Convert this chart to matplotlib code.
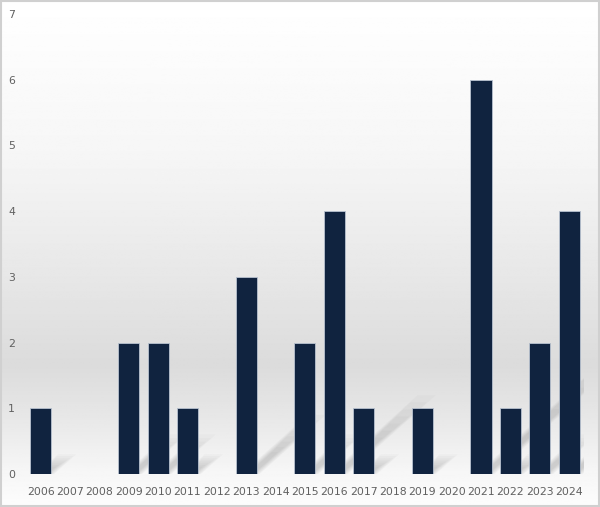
import matplotlib.pyplot as plt
import numpy as np
from matplotlib.patches import Polygon, Rectangle

years = [str(y) for y in range(2006, 2025)]
counts = [1, 0, 0, 2, 2, 1, 0, 3, 0, 2, 4, 1, 0, 1, 0, 6, 1, 2, 4]

bar_color = "#10233f"
label_color = "#606060"

fig = plt.figure(figsize=(6, 5.07), dpi=100)

# background gradient over the whole figure (0 = top, 1 = bottom)
bg = fig.add_axes([0, 0, 1, 1], zorder=0)
stops_y = [0.0, 0.3, 0.55, 0.72, 0.82, 0.93, 1.0]
stops_v = [1.0, 0.965, 0.905, 0.86, 0.905, 0.965, 0.99]
yy = np.linspace(0, 1, 400)
vals = np.interp(yy, stops_y, stops_v)
img = np.repeat(vals[:, None], 2, axis=1)
bg.imshow(img, cmap="gray", vmin=0, vmax=1, aspect="auto", extent=[0, 1, 1, 0])
bg.set_axis_off()
bg.add_patch(Rectangle((0.001, 0.001), 0.998, 0.997, fill=False,
                       edgecolor="#d0d0d0", lw=1.5, transform=bg.transAxes))

ax = fig.add_axes([0.0433, 0.065, 0.9297, 0.9075], zorder=1)
ax.patch.set_alpha(0)
x = np.arange(len(years))
w = 0.72

# soft diagonal shadows behind bars
for xi, v in zip(x, counts):
    if v == 0:
        continue
    for k in range(8):
        s = 1 - 0.09 * k
        x0 = xi - w / 2 + 0.2 + 0.03 * k
        x1 = xi + w / 2 + 0.1 - 0.03 * k
        dx = 0.75 * v * s
        dy = 0.3 * v * s
        poly = Polygon([(x0, 0), (x1, 0), (x1 + dx, dy), (x0 + dx, dy)],
                       closed=True, facecolor="#404040", edgecolor="none",
                       alpha=0.028, zorder=1)
        ax.add_patch(poly)

ax.bar(x, counts, width=w, color=bar_color, edgecolor="#b8c2d0", lw=0.6, zorder=3)

ax.set_xlim(-0.5, len(years) - 0.5)
ax.set_ylim(0, 7)
ax.set_yticks(range(0, 8))
ax.set_xticks(x)
ax.set_xticklabels(years)
for s in ax.spines.values():
    s.set_visible(False)
ax.tick_params(axis="both", length=0, labelsize=7.8, labelcolor=label_color)
ax.tick_params(axis="y", pad=8)
ax.tick_params(axis="x", pad=9)

fig.savefig("out.png", dpi=100)
